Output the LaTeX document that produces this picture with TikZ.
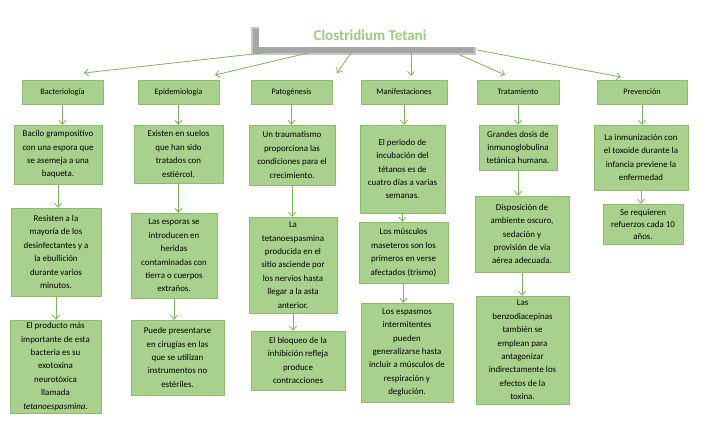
\documentclass[tikz,border=0pt]{standalone}
\usepackage{fontspec}
\setmainfont{Carlito}
\usetikzlibrary{arrows.meta}
\definecolor{gfill}{HTML}{A9D18E}
\definecolor{gline}{HTML}{8DBA6C}
\definecolor{garr}{HTML}{7DB65A}
\definecolor{gtitle}{HTML}{9CCB7E}
\begin{document}
\begin{tikzpicture}[x=1pt,y=-1pt,
  bx/.style={draw=gline,fill=gfill,inner sep=1pt,align=center,font=\fontsize{8.9}{13.4}\selectfont},
  hd/.style={draw=gline,fill=gfill,inner sep=1pt,align=center,font=\fontsize{8.3}{10}\selectfont,minimum height=24pt},
  ar/.style={draw=garr,line width=0.8pt,-{Straight Barb[length=4pt,width=7pt]}}]
\useasboundingbox (0,0) rectangle (714,425);
\fill[white] (0,0) rectangle (714,425);
\fill[black!22] (251,27) rectangle (476,55);
\fill[black!35] (253,29) rectangle (474,53);
\node[fill=white,minimum width=222pt,minimum height=24pt,inner sep=0,
  font=\fontsize{15}{18}\selectfont\bfseries,text=gtitle] (t) at (370,35) {Clostridium Tetani};
\coordinate (s1) at (271,52); \coordinate (e1) at (84,73);
\coordinate (s2) at (308,53); \coordinate (e2) at (215,75);
\coordinate (s3) at (351,53); \coordinate (e3) at (337,73);
\coordinate (s4) at (411,53); \coordinate (e4) at (411,76);
\coordinate (s5) at (460,55); \coordinate (e5) at (505,75);
\coordinate (s6) at (477,50); \coordinate (e6) at (621,77);
\foreach \i in {1,...,6}{\draw[ar] (s\i) -- (e\i);}
\node[hd,minimum width=81pt] (h1) at (62.5,92) {Bacteriología};
\node[hd,minimum width=81pt] (h2) at (178.5,92) {Epidemiología};
\node[hd,minimum width=81pt] (h3) at (291.5,92) {Patogénesis};
\node[hd,minimum width=86pt] (h4) at (404,92) {Manifestaciones};
\node[hd,minimum width=82pt] (h5) at (518,92) {Tratamiento};
\node[hd,minimum width=90pt] (h6) at (642,92) {Prevención};
\node[bx,minimum width=88pt,minimum height=59pt] (b11) at (58,154.5) {Bacilo grampositivo\\con una espora que\\se asemeja a una\\baqueta.};
\node[bx,minimum width=90pt,minimum height=88pt] (b12) at (56,252) {Resisten a la\\mayoría de los\\desinfectantes y a\\la ebullición\\durante varios\\minutos.};
\node[bx,minimum width=91pt,minimum height=93pt] (b13) at (55.5,366.5) {El producto más\\importante de esta\\bacteria es su\\exotoxina\\neurotóxica\\llamada\\\textit{tetanoespasmina}.};
\node[bx,minimum width=89pt,minimum height=58pt] (b21) at (178.5,154) {Existen en suelos\\que han sido\\tratados con\\estiércol.};
\node[bx,minimum width=86pt,minimum height=85pt] (b22) at (174,255.5) {Las esporas se\\introducen en\\heridas\\contaminadas con\\tierra o cuerpos\\extraños.};
\node[bx,minimum width=93pt,minimum height=75pt] (b23) at (177.5,357.5) {Puede presentarse\\en cirugías en las\\que se utilizan\\instrumentos no\\estériles.};
\node[bx,minimum width=86pt,minimum height=60pt] (b31) at (292,155) {Un traumatismo\\proporciona las\\condiciones para el\\crecimiento.};
\node[bx,minimum width=88pt,minimum height=96pt] (b32) at (293,265) {La\\tetanoespasmina\\producida en el\\sitio asciende por\\los nervios hasta\\llegar a la asta\\anterior.};
\node[bx,minimum width=94pt,minimum height=59pt] (b33) at (298,360.5) {El bloqueo de la\\inhibición refleja\\produce\\contracciones};
\node[bx,minimum width=85pt,minimum height=88pt] (b41) at (402.5,169) {El periodo de\\incubación del\\tétanos es de\\cuatro días a varias\\semanas.};
\node[bx,minimum width=89pt,minimum height=61pt] (b42) at (403.5,252.5) {Los músculos\\maseteros son los\\primeros en verse\\afectados (trismo)};
\node[bx,minimum width=92pt,minimum height=99pt] (b43) at (407,352.5) {Los espasmos\\intermitentes\\pueden\\generalizarse hasta\\incluir a músculos de\\respiración y\\deglución.};
\node[bx,minimum width=78pt,minimum height=45pt] (b51) at (518,147.5) {Grandes dosis de\\inmunoglobulina\\tetánica humana.};
\node[bx,minimum width=94pt,minimum height=76pt] (b52) at (522,234) {Disposición de\\ambiente oscuro,\\sedación y\\provisión de vía\\aérea adecuada.};
\node[bx,minimum width=93pt,minimum height=108pt] (b53) at (522.5,350) {Las\\benzodiacepinas\\también se\\emplean para\\antagonizar\\indirectamente los\\efectos de la\\toxina.};
\node[bx,minimum width=94pt,minimum height=65pt] (b61) at (641,157.5) {La inmunización con\\el toxoide durante la\\infancia previene la\\enfermedad};
\node[bx,minimum width=80pt,minimum height=40pt,font=\fontsize{8.9}{12}\selectfont] (b62) at (643,224) {Se requieren\\refuerzos cada 10\\años.};
\foreach \c in {1,...,6}{\draw[ar] (h\c.south) -- (h\c.south |- b\c1.north);}
\foreach \c in {1,...,5}{
  \draw[ar] (b\c1.south) -- (b\c1.south |- b\c2.north);
  \draw[ar] (b\c2.south) -- (b\c2.south |- b\c3.north);}
\draw[ar] (b61.south) -- (b61.south |- b62.north);
\end{tikzpicture}
\end{document}
